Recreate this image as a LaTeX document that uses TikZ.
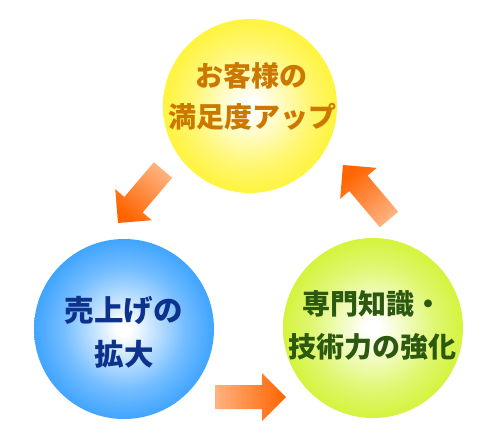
\documentclass[tikz,border=0pt]{standalone}
\usepackage{fontspec}
\newfontfamily\jp{Noto Sans CJK JP}
\usetikzlibrary{calc}
\definecolor{ycol}{RGB}{255,240,0}
\definecolor{bcol}{RGB}{0,134,255}
\definecolor{gcol}{RGB}{198,240,0}
\definecolor{ytext}{RGB}{204,120,0}
\definecolor{btext}{RGB}{12,50,140}
\definecolor{gtext}{RGB}{45,88,15}
\definecolor{arrlight}{RGB}{255,178,128}
\definecolor{arrdark}{RGB}{255,100,0}
\pgfdeclareradialshading{yball}{\pgfpoint{0bp}{0bp}}{color(0bp)=(white); color(2bp)=(white); color(17bp)=(ycol!55!white); color(31bp)=(ycol!92!white); color(50bp)=(ycol)}
\pgfdeclareradialshading{bball}{\pgfpoint{0bp}{0bp}}{color(0bp)=(white); color(2bp)=(white); color(17bp)=(bcol!55!white); color(31bp)=(bcol!90!white); color(50bp)=(bcol)}
\pgfdeclareradialshading{gball}{\pgfpoint{0bp}{0bp}}{color(0bp)=(white); color(2bp)=(white); color(17bp)=(gcol!55!white); color(31bp)=(gcol!92!white); color(50bp)=(gcol)}
\newcommand{\blockarr}[4]{%
  \coordinate (#1base) at ($(#3)!24pt!(#2)$);
  \shade[arrowshade, shading angle=#4]
    ($(#2)!12pt!90:(#3)$) -- ($(#1base)!12pt!90:(#3)$) -- ($(#1base)!24pt!90:(#3)$)
    -- (#3) -- ($(#1base)!24pt!-90:(#3)$) -- ($(#1base)!12pt!-90:(#3)$)
    -- ($(#2)!12pt!-90:(#3)$) -- cycle;
}
\begin{document}
\begin{tikzpicture}[x=1pt,y=-1pt,
  ball/.style={circle, inner sep=0pt, minimum size=#1, shade},
  arrowshade/.style={top color=arrdark, bottom color=arrlight},
  ytxt/.style={anchor=base, inner sep=0pt, text=ytext, font=\jp\bfseries\fontsize{28}{28}\selectfont},
  btxt/.style={anchor=base, inner sep=0pt, text=btext, font=\jp\bfseries\fontsize{29.5}{29.5}\selectfont},
  gtxt/.style={anchor=base, inner sep=0pt, text=gtext, font=\jp\bfseries\fontsize{28}{28}\selectfont}]
\useasboundingbox (0,0) rectangle (500,437);
% circles
\node[ball=174pt, shading=yball] (topc) at (250,106) {};
\node[ball=180pt, shading=bball] (leftc) at (124,329) {};
\node[ball=180pt, shading=gball] (rightc) at (373,328) {};
% texts
\node[ytxt] (t1) at (251,86.5) {お客様の};
\node[ytxt] (t2) at (252,127.6) {満足度アップ};
\node[btxt] (b1) at (123.5,321) {売上げの};
\node[btxt] (b2) at (124,365) {拡大};
\node[gtxt] (g1) at (372,314) {専門知識・};
\node[gtxt] (g2) at (372,357) {技術力の強化};
% arrows
\coordinate (a1t) at (163,170);
\coordinate (a1p) at (118,223);
\coordinate (a2t) at (389,219.5);
\coordinate (a2p) at (343,165);
\coordinate (a3t) at (215,397);
\coordinate (a3p) at (286,397);
\blockarr{a1}{a1t}{a1p}{139.7}
\blockarr{a2}{a2t}{a2p}{40.2}
\blockarr{a3}{a3t}{a3p}{-90}
\end{tikzpicture}
\end{document}
